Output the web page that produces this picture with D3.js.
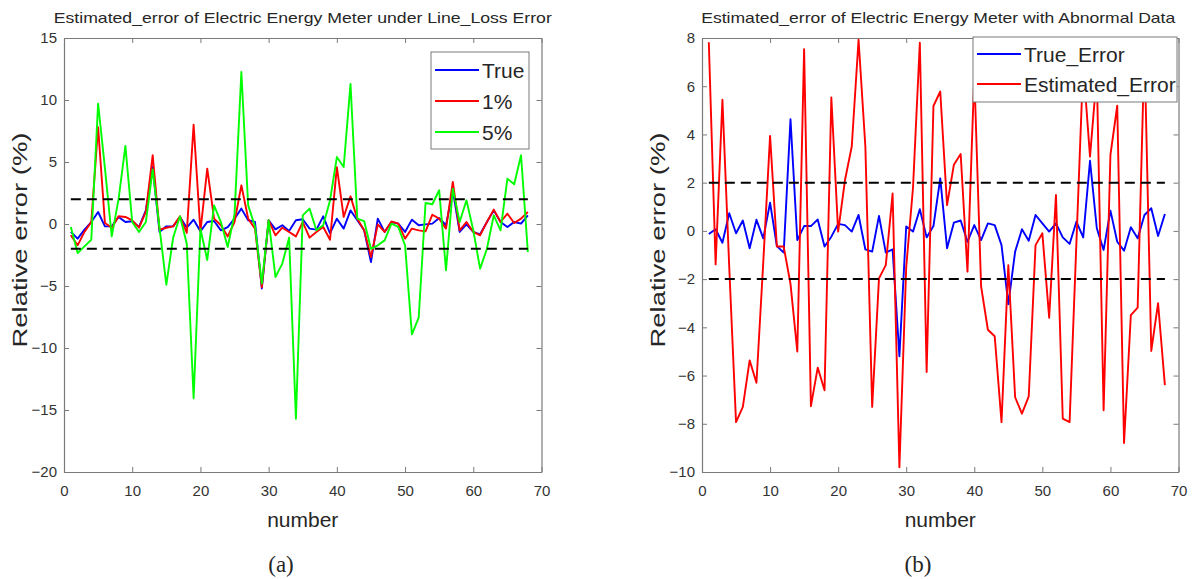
<!DOCTYPE html>
<html>
<head>
<meta charset="utf-8">
<script src="https://cdn.jsdelivr.net/npm/d3@7"></script>
<style>
  body { margin: 0; background: #fff; }
  svg text { font-family: "Liberation Sans", Arial, sans-serif; fill: #262626; }
</style>
</head>
<body>
<svg id="chart" width="1194" height="579"></svg>
<script>
// sample number on the x axis
var numbers = d3.range(1, 69);

// (a) line loss error
var trueLoss = [-0.64, -1.18, -0.45, 0.16, 0.97, -0.19, -0.19, 0.57, 0.16, 0.22,
    -0.24, 1.1, 4.6, -0.64, -0.19, -0.19, 0.57, -0.3, 0.35, -0.59,
    0.16, 0.24, -0.51, -0.25, 0.43, 1.24, 0.3, 0.16, -5.2, 0.3,
    -0.43, -0.1, -0.56, 0.3, 0.38, -0.37, -0.45, 0.62, -0.75, 0.43,
    -0.37, 1.1, 0.3, -0.51, -3.07, 0.43, -0.64, 0.16, 0.03, -0.64,
    0.35, -0.1, -0.03, 0.03, 0.48, -0.1, 2.7, -0.64, -0.03, -0.64,
    -0.83, 0.16, 1.1, 0.16, -0.24, 0.16, 0.03, 0.7];
var loss1 = [-0.91, -1.72, -0.64, 0.16, 7.8, 0.08, -0.3, 0.62, 0.57, 0.3,
    -0.3, 0.97, 5.54, -0.45, -0.3, -0.19, 0.62, -0.72, 8.0, -0.6,
    4.46, 0.43, -0.1, -1.0, 0.16, 3.12, 0.43, -0.37, -5.1, 0.3,
    -0.91, -0.3, -0.64, -1.0, 0.16, -1.1, -0.64, -0.24, -1.27, 4.59,
    0.57, 2.23, 0.43, -0.51, -2.66, -0.03, -0.64, 0.2, 0.03, -1.18,
    -0.37, -0.51, -0.59, 0.75, 0.43, -0.37, 3.39, -0.51, 0.16, -0.64,
    -0.91, 0.16, 1.16, 0.16, 0.83, 0.08, 0.43, 0.97];
var loss5 = [-0.24, -2.34, -1.8, -1.27, 9.7, 4.5, -1.0, 2.0, 6.3, 0.16,
    -0.64, 0.16, 4.4, -0.3, -4.9, -1.1, 0.62, -1.6, -14.05, -0.4,
    -2.9, 1.5, 0.16, -1.85, 0.8, 12.26, 1.5, -0.2, -4.8, 0.3,
    -4.27, -3.2, -1.1, -15.7, 0.7, 1.24, -0.51, -0.1, 1.9, 5.4,
    4.6, 11.3, 0.43, 0.24, -2.0, -1.72, -1.32, 0.03, -0.24, -1.72,
    -8.9, -7.55, 1.69, 1.59, 2.72, -3.74, 2.85, 0.16, 1.91, -0.51,
    -3.6, -2.0, 0.7, -0.51, 3.66, 3.2, 5.54, -2.26];

// (b) abnormal data
var trueAbn = [-0.13, 0.07, -0.49, 0.73, -0.1, 0.43, -0.72, 0.46, -0.31, 1.17,
    -0.63, -0.9, 4.63, -0.38, 0.2, 0.2, 0.47, -0.65, -0.24, 0.29,
    0.24, -0.03, 0.66, -0.77, -0.86, 0.62, -0.9, -0.77, -5.2, 0.18,
    -0.03, 0.9, -0.27, 0.2, 2.18, -0.72, 0.34, 0.43, -0.45, 0.24,
    -0.38, 0.31, 0.24, -0.59, -3.04, -0.86, 0.07, -0.41, 0.66, 0.31,
    -0.03, 0.31, -0.27, -0.54, 0.38, -0.27, 2.91, 0.11, -0.79, 0.84,
    -0.45, -0.82, 0.15, -0.31, 0.66, 0.94, -0.21, 0.7];
var estAbn = [7.82, -1.39, 5.44, -1.5, -7.93, -7.3, -5.37, -6.3, -1.3, 3.94,
    -0.65, -0.65, -2.2, -5.0, 7.54, -7.27, -5.67, -6.61, 5.53, -0.03,
    2.1, 3.5, 7.93, 3.5, -7.3, -1.97, -1.42, 1.55, -9.8, -1.5,
    1.8, 7.8, -5.85, 5.18, 5.78, 1.07, 2.74, 3.19, -1.69, 6.5,
    -2.3, -4.1, -4.37, -7.93, -1.42, -6.9, -7.58, -6.86, -0.59, -0.1,
    -3.6, 1.49, -7.79, -7.93, -0.5, 6.9, 3.08, 6.5, -7.44, 3.15,
    5.19, -8.8, -3.49, -3.18, 7.6, -4.98, -3.0, -6.4];

var xTicks = [0, 10, 20, 30, 40, 50, 60, 70];
var yTicksA = [-20, -15, -10, -5, 0, 5, 10, 15];
var yTicksB = [-10, -8, -6, -4, -2, 0, 2, 4, 6, 8];
var limits = [-2, 2];

var svg = d3.select('#chart');
var plotTop = 38, plotBottom = 472;
var axisColor = '#7a7a7a';

function drawPanel(p) {
    var g = svg.append('g');

    var x = d3.scaleLinear().domain([0, 70]).range([p.left, p.right]);
    var y = d3.scaleLinear().domain(p.yDomain).range([plotBottom, plotTop]);

    // axes, ticks pointing inward like matlab
    var axes = [
        {ax: d3.axisBottom(x).tickValues(xTicks).tickPadding(13), at: [0, plotBottom]},
        {ax: d3.axisTop(x).tickValues(xTicks).tickFormat(''), at: [0, plotTop]},
        {ax: d3.axisLeft(y).tickValues(p.yTicks).tickPadding(7), at: [p.left, 0]},
        {ax: d3.axisRight(y).tickValues(p.yTicks).tickFormat(''), at: [p.right, 0]}
    ];
    axes.forEach(function(a) {
        var sel = g.append('g')
            .attr('transform', 'translate(' + a.at[0] + ',' + a.at[1] + ')')
            .call(a.ax.tickSizeInner(-5).tickSizeOuter(0));
        sel.select('.domain').attr('stroke', axisColor).attr('stroke-width', 1.2);
        sel.selectAll('.tick line').attr('stroke', axisColor).attr('stroke-width', 1);
        sel.selectAll('.tick text').style('font-size', '15px').style('fill', '#333');
    });

    var line = d3.line()
        .x(function(d, i) { return x(numbers[i]); })
        .y(function(d) { return y(d); });

    p.series.forEach(function(s) {
        g.append('path')
            .datum(s.values)
            .attr('d', line)
            .attr('fill', 'none')
            .attr('stroke', s.color)
            .attr('stroke-width', 1.9)
            .attr('stroke-linejoin', 'round');
    });

    // +-2% limits
    limits.forEach(function(v) {
        g.append('line')
            .attr('x1', x(1)).attr('x2', x(68))
            .attr('y1', y(v)).attr('y2', y(v))
            .attr('stroke', '#000')
            .attr('stroke-width', 2)
            .attr('stroke-dasharray', '10,6');
    });

    g.append('text')
        .attr('x', (p.left + p.right) / 2 + p.titleShift)
        .attr('y', 23)
        .attr('text-anchor', 'middle')
        .style('font-size', '15px')
        .attr('textLength', p.titleLength)
        .attr('lengthAdjust', 'spacingAndGlyphs')
        .text(p.title);

    g.append('text')
        .attr('x', (p.left + p.right) / 2)
        .attr('y', 527)
        .attr('text-anchor', 'middle')
        .style('font-size', '21px')
        .text('number');

    g.append('text')
        .attr('transform', 'translate(' + (p.left - 37) + ',240) rotate(-90)')
        .attr('text-anchor', 'middle')
        .style('font-size', '21px')
        .attr('textLength', 215)
        .attr('lengthAdjust', 'spacingAndGlyphs')
        .text('Relative error (%)');

    g.append('text')
        .attr('x', p.capX)
        .attr('y', 572)
        .attr('text-anchor', 'middle')
        .style('font-size', '23px')
        .style('font-family', '"Liberation Serif", "DejaVu Serif", serif')
        .text(p.caption);

    // legend
    var lg = g.append('g');
    lg.append('rect')
        .attr('x', p.legend.x).attr('y', p.legend.y)
        .attr('width', p.legend.w).attr('height', p.legend.h)
        .attr('fill', '#fff').attr('stroke', axisColor).attr('stroke-width', 1);
    p.series.forEach(function(s, i) {
        var ly = p.legend.y + p.legend.first + i * p.legend.step;
        lg.append('line')
            .attr('x1', p.legend.x + 4).attr('x2', p.legend.x + 48)
            .attr('y1', ly).attr('y2', ly)
            .attr('stroke', s.color).attr('stroke-width', 1.8);
        lg.append('text')
            .attr('x', p.legend.x + 51)
            .attr('y', ly + 7.5)
            .style('font-size', '21px')
            .text(s.name);
    });
}

drawPanel({
    left: 64, right: 541.5,
    yDomain: [-20, 15], yTicks: yTicksA,
    title: 'Estimated_error of Electric Energy Meter under Line_Loss Error',
    titleShift: 0, titleLength: 498,
    caption: '(a)', capX: 281,
    series: [
        {name: 'True', values: trueLoss, color: '#0000ff'},
        {name: '1%', values: loss1, color: '#ff0000'},
        {name: '5%', values: loss5, color: '#00ff00'}
    ],
    legend: {x: 431, y: 52, w: 98, h: 97, first: 18, step: 31}
});

drawPanel({
    left: 702, right: 1178.5,
    yDomain: [-10, 8], yTicks: yTicksB,
    title: 'Estimated_error of Electric Energy Meter with Abnormal Data',
    titleShift: -2, titleLength: 474,
    caption: '(b)', capX: 918,
    series: [
        {name: 'True_Error', values: trueAbn, color: '#0000ff'},
        {name: 'Estimated_Error', values: estAbn, color: '#ff0000'}
    ],
    legend: {x: 973, y: 37, w: 204, h: 65, first: 17, step: 30}
});
</script>
</body>
</html>
